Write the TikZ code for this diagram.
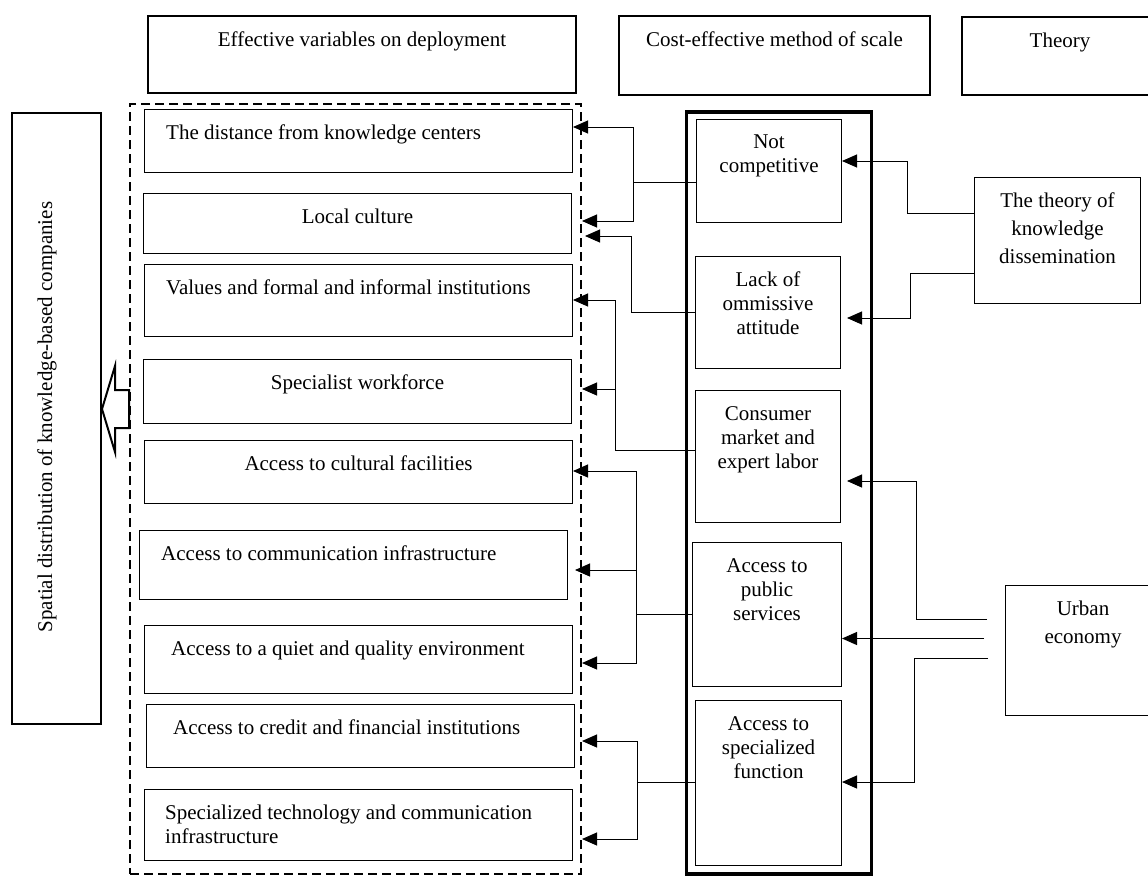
\documentclass[tikz,border=0pt]{standalone}
\usepackage{fontspec}
\setmainfont{Liberation Serif}
\usetikzlibrary{arrows.meta,calc}

\begin{document}
\begin{tikzpicture}[x=1pt,y=-1pt,font=\fontsize{21pt}{24pt}\selectfont,
  head/.style={rectangle,draw,line width=2pt,anchor=north west,inner sep=0pt},
  box/.style={rectangle,draw,line width=1pt,anchor=north west,inner sep=0pt},
  txt/.style={anchor=north,inner sep=0pt,yshift=-16pt,align=center},
  ltxt/.style={anchor=north west,inner sep=0pt,yshift=-15.5pt,xshift=22pt,align=left},
  wide/.style={font=\fontsize{21pt}{28pt}\selectfont},
  conn/.style={line width=1pt},
  tip/.style={-{Triangle[length=15pt,width=13pt]}}]
\useasboundingbox (0,0) rectangle (1148,876);
\node[head,minimum width=428pt,minimum height=77pt,label={[txt,yshift=-1pt]north:Effective variables on deployment}] (hvar) at (147,15) {};
\node[head,minimum width=311pt,minimum height=79pt,label={[txt,yshift=-1pt]north:Cost-effective method of scale}] (hcost) at (618,15) {};
\node[head,minimum width=196pt,minimum height=78pt,label={[txt,yshift=-1pt]north:Theory}] (htheory) at (961,16) {};
\node[head,minimum width=89pt,minimum height=611pt] (side) at (11,112) {};
\node[rotate=90] (sidetext) at (47,417) {Spatial distribution of knowledge-based companies};
\node[rectangle,draw,dash pattern=on 9pt off 5pt,line width=2pt,anchor=north west,minimum width=451pt,minimum height=770pt] (dash) at (129,103) {};
\node[rectangle,draw,line width=3.5pt,anchor=north west,minimum width=185pt,minimum height=762pt] (col) at (684.5,110) {};

\node[box,minimum width=428pt,minimum height=63pt,label={[ltxt]north west:The distance from knowledge centers}] (d1) at (144,109) {};
\node[box,minimum width=428pt,minimum height=60pt,label={[txt]north:Local culture}] (d2) at (143,193) {};
\node[box,minimum width=428pt,minimum height=72pt,label={[ltxt]north west:Values and formal and informal institutions}] (d3) at (144,264) {};
\node[box,minimum width=428pt,minimum height=64pt,label={[txt]north:Specialist workforce}] (d4) at (143,359) {};
\node[box,minimum width=428pt,minimum height=63pt,label={[txt]north:Access to cultural facilities}] (d5) at (144,440) {};
\node[box,minimum width=428pt,minimum height=69pt,label={[ltxt]north west:Access to communication infrastructure}] (d6) at (139,530) {};
\node[box,minimum width=428pt,minimum height=68pt,label={[ltxt,xshift=5pt]north west:Access to a quiet and quality environment}] (d7) at (144,625) {};
\node[box,minimum width=428pt,minimum height=63pt,label={[ltxt,xshift=5pt]north west:Access to credit and financial institutions}] (d8) at (146,704) {};
\node[box,minimum width=428pt,minimum height=71pt,label={[ltxt,xshift=-1pt]north west:Specialized technology and communication\\infrastructure}] (d9) at (144,789) {};

\node[box,minimum width=145pt,minimum height=103pt,label={[txt]north:Not\\competitive}] (nc) at (696,119) {};
\node[box,minimum width=145pt,minimum height=112pt,label={[txt]north:Lack of\\ommissive\\attitude}] (la) at (695,256) {};
\node[box,minimum width=145pt,minimum height=132pt,label={[txt]north:Consumer\\market and\\expert labor}] (cm) at (695,390) {};
\node[box,minimum width=149pt,minimum height=144pt,label={[txt]north:Access to\\public\\services}] (ps) at (692,542) {};
\node[box,minimum width=146pt,minimum height=165pt,label={[txt]north:Access to\\specialized\\function}] (sf) at (695,700) {};

\node[box,minimum width=166pt,minimum height=126pt,label={[txt,wide]north:The theory of\\knowledge\\dissemination}] (tk) at (974,177) {};
\node[box,minimum width=155pt,minimum height=130pt,label={[txt,wide]north:Urban\\economy}] (ue) at (1005,585) {};

\draw[line width=2pt] (side.east |- 0,409) -- ++(13,-43) -- ++(0,24) -- ++(14,0) -- ++(0,38) -- ++(-14,0) -- ++(0,24) -- cycle;

\draw[conn] (nc.west |- 0,182) -- ++(-63,0) coordinate (ja);
\draw[conn,tip] (ja) |- (d1.east |- 0,127);
\draw[conn,tip] (ja) |- (dash.east |- 0,221);
\draw[conn,tip] (la.west |- 0,312) -- ++(-64,0) |- ($(dash.east |- 0,236)+(3,0)$);
\draw[conn] (cm.west |- 0,450) -- ++(-80,0) coordinate (jc);
\draw[conn,tip] (jc) |- (d3.east |- 0,300);
\draw[conn,tip] (jc) |- (dash.east |- 0,389);
\draw[conn] (ps.west |- 0,614) -- ++(-56,0) coordinate (jd);
\draw[conn,tip] (jd) |- (d5.east |- 0,471);
\draw[conn,tip] (jd) |- ($(d6.east |- 0,570)+(7,0)$);
\draw[conn,tip] (jd) |- (dash.east |- 0,663);
\draw[conn] (sf.west |- 0,782) -- ++(-58,0) coordinate (je);
\draw[conn,tip] (je) |- (dash.east |- 0,741);
\draw[conn,tip] (je) |- (dash.east |- 0,839);

\draw[conn,tip] (tk.west |- 0,213) -- ++(-67,0) |- (nc.east |- 0,161);
\draw[conn,tip] (tk.west |- 0,273) -- ++(-64,0) |- ($(la.east |- 0,318)+(6,0)$);
\coordinate (u1) at ($(ue.west)+(-18,-31)$);
\coordinate (u2) at ($(ue.west)+(-21,-12)$);
\coordinate (u3) at ($(ue.west)+(-17,8)$);
\draw[conn,tip] (u1) -- ++(-71,0) |- ($(cm.east |- 0,481)+(6,0)$);
\draw[conn,tip] (u2) -- (ps.east |- u2);
\draw[conn,tip] (u3) -- ++(-74,0) |- (sf.east |- 0,782);
\end{tikzpicture}
\end{document}
